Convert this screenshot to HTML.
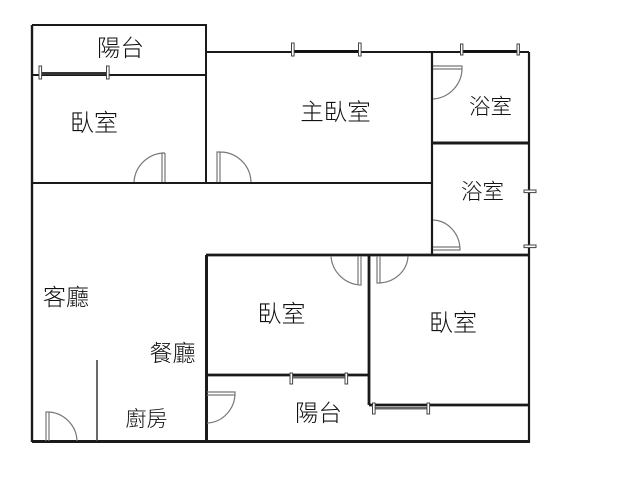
<!DOCTYPE html>
<html><head><meta charset="utf-8"><style>
html,body{margin:0;padding:0;background:#fff;width:640px;height:480px;overflow:hidden}
svg{display:block}
text{font-family:"Liberation Sans","Noto Sans CJK TC",sans-serif;font-weight:300;fill:#111;text-anchor:middle}
.w{stroke:#1a1a1a;fill:none}
.a{stroke:#777;fill:none;stroke-width:1.2}
.c{fill:#fff;stroke:#444;stroke-width:1}
</style></head><body>
<svg width="640" height="480" viewBox="0 0 640 480" xmlns="http://www.w3.org/2000/svg">
<!-- walls -->
<g class="w" stroke-width="2">
<path d="M32 25H206V183"/>
<path d="M32 25V442" stroke-width="2.4"/>
<path d="M32 75H206"/>
<path d="M32 183H432"/>
<path d="M206 52H529"/>
<path d="M529 52V442" stroke-width="2.2"/>
<path d="M432 52V255" stroke-width="2.2"/>
<path d="M432 143H529" stroke-width="3"/>
<path d="M206 255H529" stroke-width="2.8"/>
<path d="M206.500 255V442" stroke-width="3"/>
<path d="M369 255V405" stroke-width="2.8"/>
<path d="M206 375H369" stroke-width="2.800"/>
<path d="M369 405H529" stroke-width="2.800"/>
<path d="M32 441.500H530" stroke-width="3"/>
<path d="M97 360V441" stroke-width="1.600" stroke="#444"/>
</g>
<!-- windows -->
<g>
<rect x="40" y="72" width="68" height="3" fill="#333"/>
<rect x="39" y="66" width="2.600" height="13" class="c"/><rect x="106.500" y="66" width="2.600" height="13" class="c"/>
<rect x="292" y="50" width="68" height="2.500" fill="#111"/>
<rect x="291.500" y="43" width="2.600" height="13" class="c"/><rect x="358.500" y="43" width="2.600" height="13" class="c"/>
<rect x="461" y="50" width="57" height="2.500" fill="#111"/>
<rect x="460.500" y="44" width="2.400" height="11" class="c"/><rect x="517" y="44" width="2.400" height="11" class="c"/>
<rect x="524" y="190" width="12" height="2.600" class="c"/><rect x="524" y="245" width="12" height="2.600" class="c"/>
<rect x="291" y="376" width="55" height="2.500" fill="#666"/>
<rect x="290" y="373" width="2.600" height="11" class="c"/><rect x="345" y="373" width="2.600" height="11" class="c"/>
<rect x="373" y="407" width="55" height="2.500" fill="#666"/>
<rect x="372.500" y="403" width="2.600" height="11" class="c"/><rect x="427" y="403" width="2.600" height="11" class="c"/>
</g>
<!-- doors -->
<g class="a">
<path d="M134 182A31 31 0 0 1 165 153H162V182M165 153V182"/>
<path d="M217 182V152H220V182M220 152A31 31 0 0 1 251 182"/>
<path d="M433 66H462V69H433M462 67A31 31 0 0 1 433 99"/>
<path d="M433 220A28 30 0 0 1 460 250H433M433 247H460"/>
<path d="M331 256A31 31 0 0 0 361 285V256M358 256V285"/>
<path d="M377 256V283H380V256M378 283A30 28 0 0 0 408 256"/>
<path d="M207 392H235V395H207M235 393A29 30 0 0 1 207 423"/>
<path d="M46 441V412H49V441M47 412A30 30 0 0 1 77 441"/>
</g>
<!-- labels -->
<text x="120.500" y="56" font-size="23.500">陽台</text>
<text x="94" y="131" font-size="24">臥室</text>
<text x="335.500" y="120" font-size="23.500">主臥室</text>
<text x="490.500" y="114" font-size="21.500">浴室</text>
<text x="482.500" y="199" font-size="21.500">浴室</text>
<text x="281.500" y="322" font-size="24">臥室</text>
<text x="453" y="331" font-size="24">臥室</text>
<text x="318.500" y="421" font-size="23.500">陽台</text>
<text x="66" y="305" font-size="23">客廳</text>
<text x="172.500" y="361" font-size="23">餐廳</text>
<text x="146.500" y="426" font-size="21">廚房</text>
</svg>
</body></html>
